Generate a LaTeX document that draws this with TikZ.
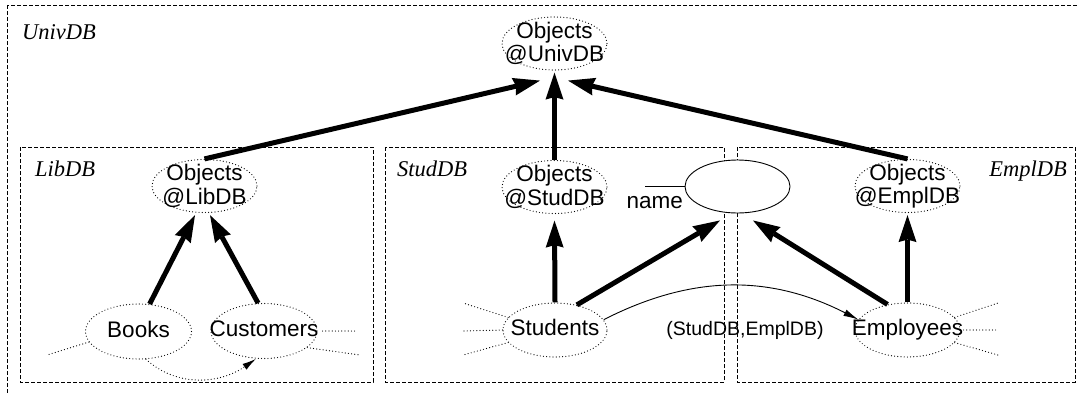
\documentclass[tikz,border=0pt]{standalone}
\usepackage{fontspec}
\setmainfont{Liberation Sans}
\newfontfamily\dbfont{Liberation Serif}
\usetikzlibrary{shapes}
\usetikzlibrary{arrows.meta}

\begin{document}
\begin{tikzpicture}[x=1pt,y=-1pt,
    dbbox/.style={draw,line width=1pt,dash pattern=on 4pt off 2pt},
    dbname/.style={inner sep=0pt,font=\fontsize{22.5}{24}\selectfont\dbfont\itshape},
    objs/.style={ellipse,draw,line width=1.2pt,line cap=round,dash pattern=on 0pt off 3.2pt,
      minimum width=105pt,minimum height=53pt,inner xsep=-20pt,inner ysep=-8pt,
      align=center,font=\fontsize{22.5}{23.5}\selectfont},
    ent/.style={objs,minimum width=106pt,minimum height=55pt,text height=16pt,text depth=4.5pt},
    stub/.style={line width=1.2pt,line cap=round,dash pattern=on 0pt off 3.2pt},
    isa/.style={line width=5pt,-{Stealth[length=27pt,width=18pt,inset=2.5pt,line width=0pt]}},
    rel/.style={line width=0.9pt,-{Latex[length=15pt,width=7pt]}}]
  \useasboundingbox (0,0) rectangle (1078,394);

  % databases
  \draw[dbbox] (7,5) rectangle (1090,405);
  \draw[dbbox] (20,147) rectangle (373,382);
  \draw[dbbox] (385,147) rectangle (724,382);
  \draw[dbbox] (737,147) rectangle (1075,382);
  \node[dbname,anchor=base west] (univlbl) at (22,39.5) {UnivDB};
  \node[dbname,anchor=base west] (liblbl) at (35,176.5) {LibDB};
  \node[dbname,anchor=base west] (studlbl) at (397,176) {StudDB};
  \node[dbname,anchor=base east] (empllbl) at (1067,176) {EmplDB};

  % object sets
  \node[objs] (objuniv) at (554.5,43.5) {Objects\\@UnivDB};
  \node[objs] (objlib) at (204.5,186) {Objects\\@LibDB};
  \node[objs] (objstud) at (554.5,187) {Objects\\@StudDB};
  \node[objs] (objempl) at (907.5,186) {Objects\\@EmplDB};

  % classes
  \node[ent] (books) at (138.5,331.5) {Books};
  \node[ent] (customers) at (264,331) {Customers};
  \node[ent,minimum width=104pt,minimum height=54pt] (students) at (555,330) {Students};
  \node[ent,minimum width=105pt,minimum height=54pt] (employees) at (907.5,330) {Employees};

  % shared type
  \node[ellipse,draw,fill=white,line width=0.9pt,minimum width=105pt,minimum height=53pt] (nameobj) at (737.5,186.5) {};
  \node[anchor=base east,inner sep=0pt,font=\fontsize{22.5}{24}\selectfont] (namelbl) at (683,208) {name};
  \coordinate (nameend) at (645,186.5);
  \draw[line width=0.9pt] (nameend) -- (nameobj.west);

  % loose ends
  \coordinate (b1) at (47,355);
  \coordinate (c1) at (355,331);
  \coordinate (c2) at (360,355);
  \coordinate (s1) at (463,303);
  \coordinate (s2) at (463,331);
  \coordinate (s3) at (463,355);
  \coordinate (e1) at (998,303);
  \coordinate (e2) at (998,330);
  \coordinate (e3) at (998,355);
  \draw[stub] (books.192) -- (b1);
  \draw[stub] ([xshift=5pt]customers.east) -- (c1);
  \draw[stub] (customers.-21) -- (c2);
  \draw[stub] (students.165) -- (s1);
  \draw[stub] (students.west) -- (s2);
  \draw[stub] (students.195) -- (s3);
  \draw[stub] (employees.15) -- (e1);
  \draw[stub] ([xshift=3pt]employees.east) -- (e2);
  \draw[stub] (employees.-15) -- (e3);
  \draw[stub,-{Latex[length=14pt,width=7pt]}] (books.-75) to[out=-42,in=-145] (customers.-106);

  % inclusions
  \draw[isa] (books.68) -- ([shift={(-9.5,2)}]objlib.south);
  \draw[isa] (customers.102) -- ([shift={(5.5,2)}]objlib.south);
  \draw[isa] (objlib.north) -- ([shift={(-14.5,10)}]objuniv.south);
  \draw[isa] (objstud.north) -- ([shift={(0,2)}]objuniv.south);
  \draw[isa] (objempl.north) -- ([shift={(13.5,10)}]objuniv.south);
  \draw[isa] (students.north) -- ([shift={(0,6.5)}]objstud.south);
  \draw[isa] (students.49) -- ([shift={(-17.5,7)}]nameobj.south);
  \draw[isa] (employees.128) -- ([shift={(15.5,7)}]nameobj.south);
  \draw[isa] (employees.north) -- ([shift={(0,2)}]objempl.south);

  % correspondence
  \draw[rel] (students.12) to[out=27,in=153] (employees.168);
  \node[inner sep=0pt,font=\fontsize{19.5}{21}\selectfont] (pairlbl) at (745,330) {(StudDB,EmplDB)};
\end{tikzpicture}
\end{document}
